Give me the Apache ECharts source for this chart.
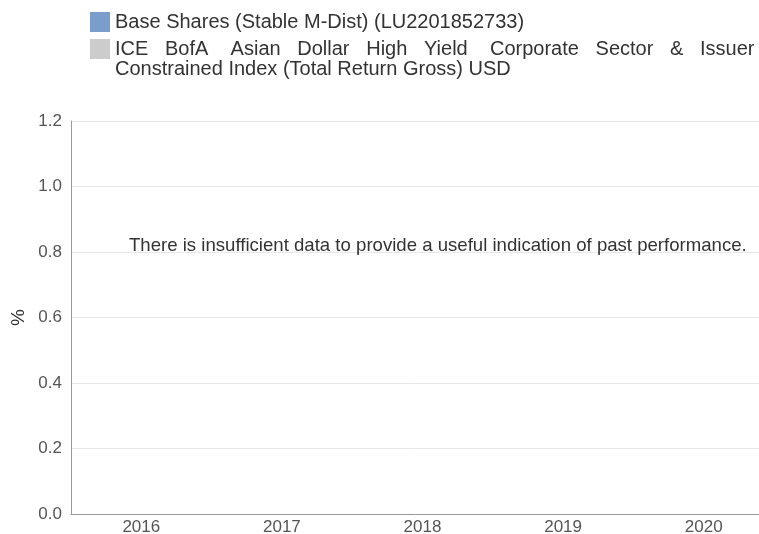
<!DOCTYPE html>
<html>
<head>
<meta charset="utf-8">
<script src="https://cdn.jsdelivr.net/npm/echarts@6/dist/echarts.min.js"></script>
<style>
  html, body { margin: 0; padding: 0; background: #fff; }
  #chart { width: 759px; height: 534px; }
</style>
</head>
<body>
<div id="chart"></div>
<script>
  // 数据
  var years = ['2016', '2017', '2018', '2019', '2020'];
  var fundName = 'Base Shares (Stable M-Dist) (LU2201852733)';
  var indexName = 'ICE BofA Asian Dollar High Yield Corporate Sector & Issuer Constrained Index (Total Return Gross) USD';
  var fundReturns = [null, null, null, null, null];
  var indexReturns = [null, null, null, null, null];
  var yTicks = [0, 0.2, 0.4, 0.6, 0.8, 1.0, 1.2];
  var notice = 'There is insufficient data to provide a useful indication of past performance.';

  var fontFamily = '"Liberation Sans", Arial, sans-serif';

  var myChart = echarts.init(document.getElementById('chart'));
  var option = {
    animation: false,
    title: {
      text: notice,
      left: 129,
      top: 236,
      padding: 0,
      textStyle: { fontFamily: fontFamily, fontSize: 18.6, fontWeight: 'normal', color: '#333' }
    },
    legend: [{
      orient: 'vertical',
      left: 90,
      top: 12,
      padding: 0,
      itemWidth: 20,
      itemHeight: 20,
      icon: 'rect',
      data: [fundName],
      textStyle: { fontFamily: fontFamily, fontSize: 20, color: '#333', lineHeight: 20 }
    }, {
      orient: 'vertical',
      left: 90,
      top: 19,
      padding: 0,
      itemWidth: 20,
      itemHeight: 20,
      icon: 'rect',
      data: [indexName],
      // 两端对齐的第一行, 前面空一行让色块对齐第一行
      formatter: function () {
        return ' \nICE   BofA    Asian   Dollar   High   Yield    Corporate   Sector   &   Issuer\nConstrained Index (Total Return Gross) USD';
      },
      textStyle: { fontFamily: fontFamily, fontSize: 20, color: '#333', lineHeight: 20 }
    }],
    grid: { left: 71, top: 121, width: 703, height: 393, outerBoundsMode: 'none' },
    xAxis: {
      type: 'category',
      data: years,
      axisTick: { show: false },
      axisLine: { lineStyle: { color: '#999' } },
      axisLabel: { fontFamily: fontFamily, fontSize: 17, color: '#555', margin: 5 }
    },
    yAxis: {
      type: 'value',
      min: yTicks[0],
      max: yTicks[yTicks.length - 1],
      interval: 0.2,
      name: '%',
      nameLocation: 'middle',
      nameGap: 43,
      nameMoveOverlap: false,
      nameRotate: 90,
      nameTextStyle: { fontFamily: fontFamily, fontSize: 19, color: '#333' },
      axisLine: { show: true, lineStyle: { color: '#999' } },
      axisTick: { show: false },
      splitLine: { lineStyle: { color: '#e6e6e6' } },
      axisLabel: {
        fontFamily: fontFamily, fontSize: 17, color: '#555', margin: 9,
        formatter: function (v) { return v.toFixed(1); }
      }
    },
    series: [{
      name: fundName,
      type: 'bar',
      itemStyle: { color: '#7b9dcb' },
      data: fundReturns
    }, {
      name: indexName,
      type: 'bar',
      itemStyle: { color: '#cccccc' },
      data: indexReturns
    }]
  };
  myChart.setOption(option);
</script>
</body>
</html>
